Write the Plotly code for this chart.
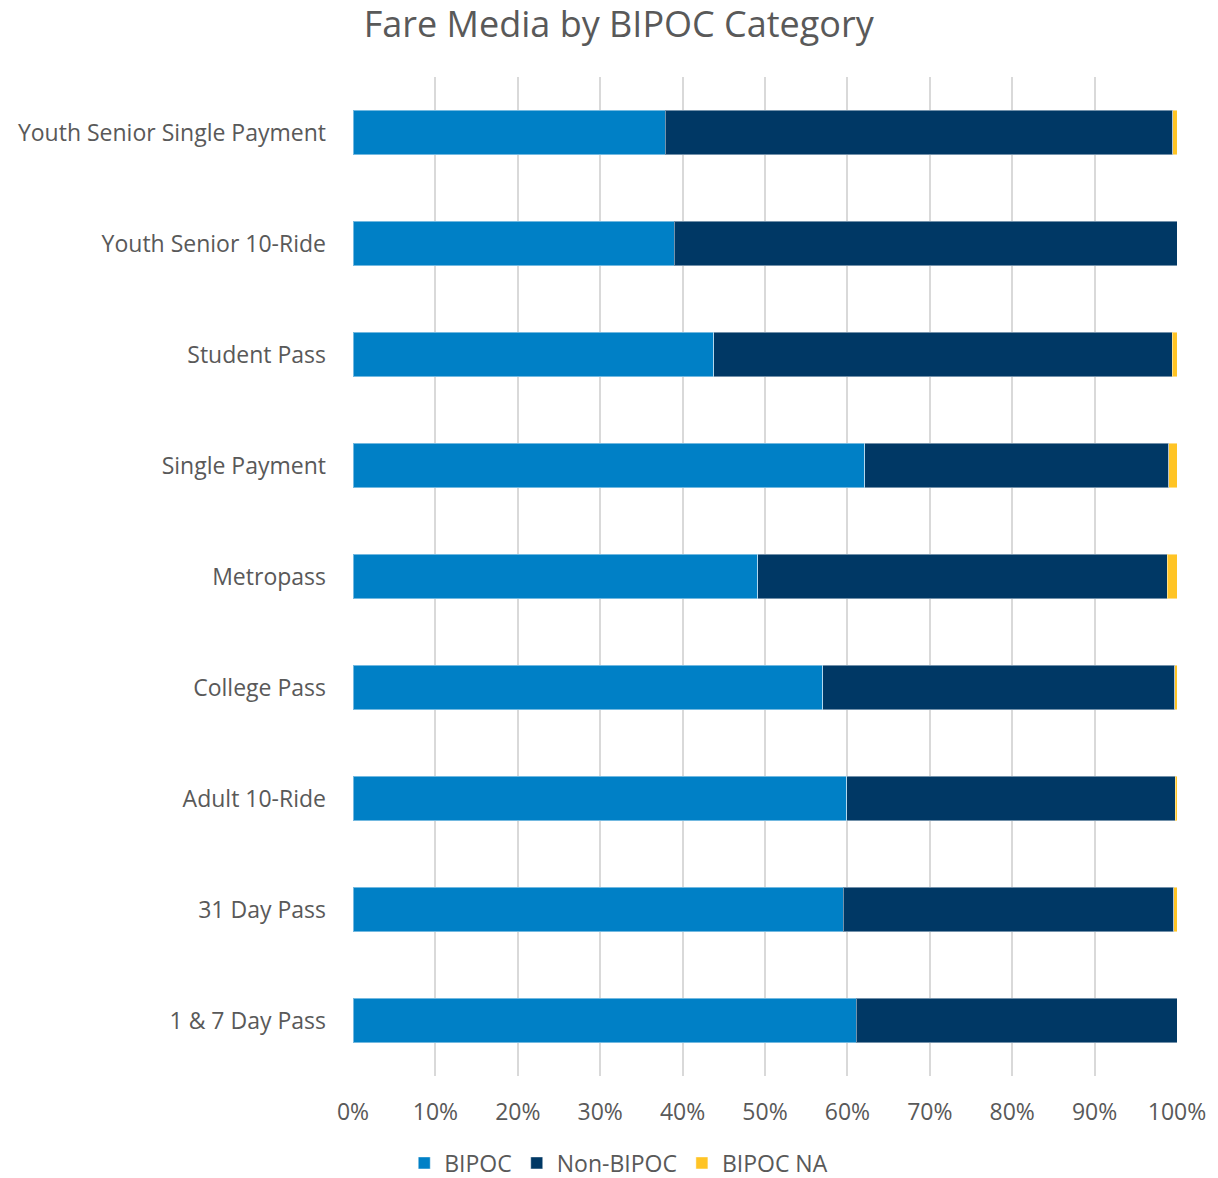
import plotly.graph_objects as go

# Fare media categories, listed top to bottom
categories = [
    "Youth Senior Single Payment",
    "Youth Senior 10-Ride",
    "Student Pass",
    "Single Payment",
    "Metropass",
    "College Pass",
    "Adult 10-Ride",
    "31 Day Pass",
    "1 & 7 Day Pass",
]

# Share of riders (%) in each category
bipoc = [37.9, 39.0, 43.8, 62.1, 49.1, 57.0, 59.9, 59.5, 61.1]
non_bipoc = [61.6, 61.0, 55.6, 36.9, 49.7, 42.7, 39.9, 40.1, 38.9]
bipoc_na = [0.5, 0.0, 0.6, 1.0, 1.2, 0.3, 0.2, 0.4, 0.0]

tick_vals = [0, 10, 20, 30, 40, 50, 60, 70, 80, 90, 100]
tick_text = ["0%", "10%", "20%", "30%", "40%", "50%", "60%", "70%", "80%", "90%", "100%"]

series = [
    ("BIPOC", bipoc, "#0080C6"),
    ("Non-BIPOC", non_bipoc, "#003865"),
    ("BIPOC NA", bipoc_na, "#FFC425"),
]

text_color = "#595959"
font_family = "Open Sans, Noto Sans, sans-serif"

fig = go.Figure()
for name, values, color in series:
    fig.add_trace(go.Bar(
        y=categories,
        x=values,
        name=name,
        orientation="h",
        marker=dict(color=color, line=dict(color="rgba(255,255,255,0.45)", width=1)),
    ))

fig.update_layout(
    width=1218,
    height=1178,
    barmode="stack",
    bargap=0.6,
    plot_bgcolor="white",
    paper_bgcolor="white",
    margin=dict(l=353, r=41, t=77, b=102),
    font=dict(family=font_family, color=text_color, size=23),
    title=dict(
        text="Fare Media by BIPOC Category",
        x=0.508,
        xref="container",
        xanchor="center",
        y=1 - 24 / 1178,
        yref="container",
        yanchor="middle",
        font=dict(size=36, color=text_color, family=font_family),
    ),
    legend=dict(
        orientation="h",
        x=0.508,
        xref="container",
        xanchor="center",
        y=1 - 1163 / 1178,
        yref="container",
        yanchor="middle",
        font=dict(size=23, color=text_color),
        traceorder="normal",
        itemwidth=30,
    ),
    xaxis=dict(
        range=[0, 100],
        tickvals=tick_vals,
        ticktext=tick_text,
        showgrid=True,
        gridcolor="#D9D9D9",
        gridwidth=2,
        zeroline=False,
        showline=False,
        ticks="",
        ticklabelstandoff=20,
        tickfont=dict(size=23, color=text_color),
    ),
    yaxis=dict(
        autorange="reversed",
        showgrid=False,
        zeroline=False,
        showline=False,
        ticks="",
        ticklabelstandoff=26,
        tickfont=dict(size=23, color=text_color),
    ),
)

fig.write_html("out.html")
